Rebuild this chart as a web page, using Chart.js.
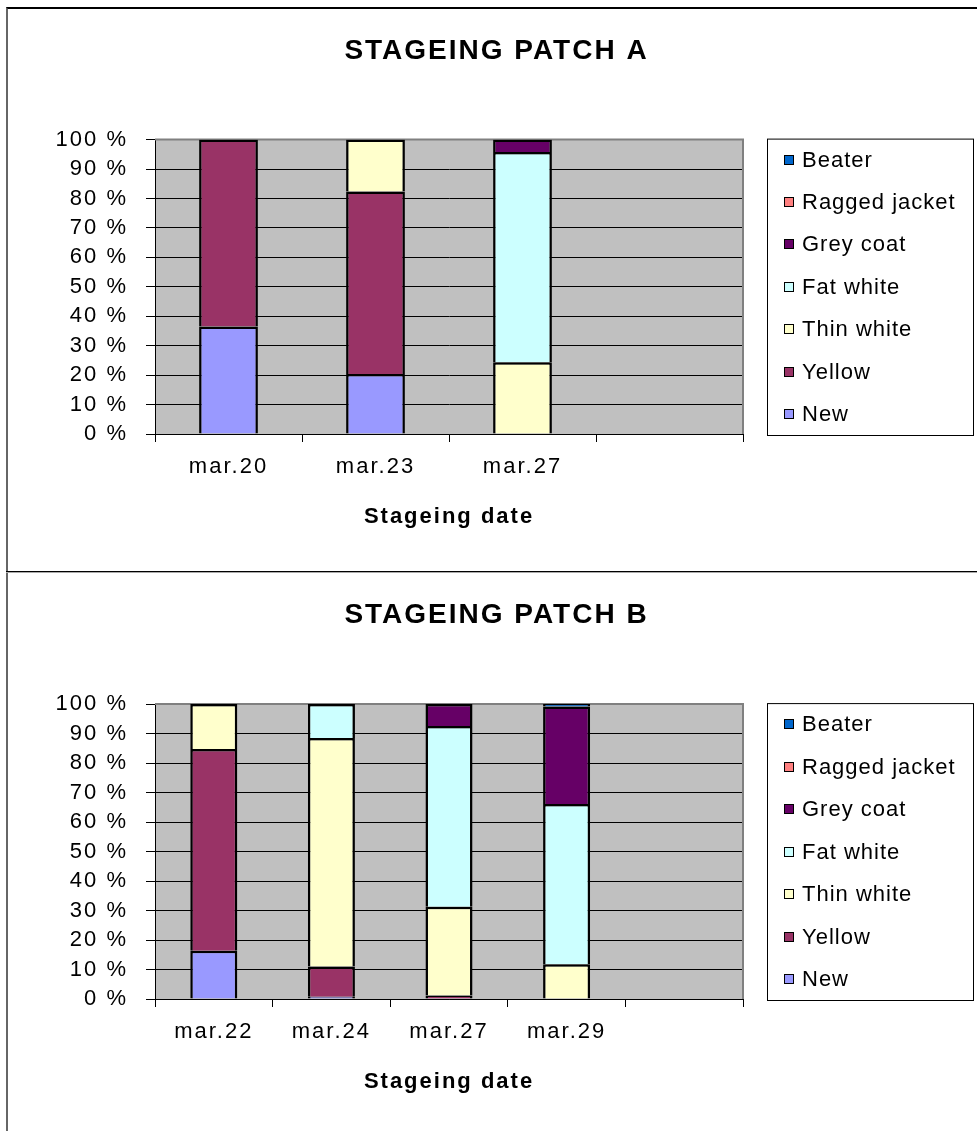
<!DOCTYPE html>
<html>
<head>
<meta charset="utf-8">
<script src="https://cdn.jsdelivr.net/npm/chart.js@4.4.1/dist/chart.umd.min.js"></script>
<style>
  html, body { margin: 0; padding: 0; background: #fff; }
  body { width: 977px; height: 1131px; position: relative; overflow: hidden; }
  #frame { position: absolute; left: 6px; top: 7px; width: 1000px; height: 1130px;
           border-top: 2px solid #000; border-left: 2px solid #666; box-sizing: border-box; }
  #sep { position: absolute; left: 6px; top: 571px; width: 1000px; height: 2px;
         border-top: 1px solid #000; border-bottom: 1px solid #aaa; box-sizing: border-box; }
  canvas { position: absolute; left: 0; }
  #cA { top: 0; }
  #cB { top: 572px; }
</style>
</head>
<body>
<div id="frame"></div>
<div id="sep"></div>
<canvas id="cA" width="977" height="572"></canvas>
<canvas id="cB" width="977" height="559"></canvas>
<script>
// ---- data ----
const seriesNames  = ['New', 'Yellow', 'Thin white', 'Fat white', 'Grey coat', 'Ragged jacket', 'Beater'];
const seriesColors = ['#9999FF', '#993366', '#FFFFCC', '#CCFFFF', '#660066', '#FF8080', '#0066CC'];
const yTickValues  = [0, 10, 20, 30, 40, 50, 60, 70, 80, 90, 100];

const titleA = 'STAGEING PATCH A';
const categoriesA = ['mar.20', 'mar.23', 'mar.27', ''];
const newA     = [36.5, 20.4, null, null];
const yellowA  = [63.5, 62.0, null, null];
const thinA    = [null, 17.6, 24.4, null];
const fatA     = [null, null, 71.4, null];
const greyA    = [null, null, 4.2, null];
const raggedA  = [null, null, null, null];
const beaterA  = [null, null, null, null];

const titleB = 'STAGEING PATCH B';
const categoriesB = ['mar.22', 'mar.24', 'mar.27', 'mar.29', ''];
const newB     = [16.4, 0.8, null, null, null];
const yellowB  = [68.4, 10.2, 1.2, null, null];
const thinB    = [15.2, 77.5, 30.1, 11.8, null];
const fatB     = [null, 11.5, 61.3, 54.3, null];
const greyB    = [null, null, 7.4, 33.1, null];
const raggedB  = [null, null, null, null, null];
const beaterB  = [null, null, null, 0.8, null];

const xAxisTitle = 'Stageing date';

const FONT = "'Liberation Sans', Arial, sans-serif";

function makeDatasets(cols) {
  return cols.map((d, i) => ({
    label: seriesNames[i],
    data: d,
    backgroundColor: seriesColors[i],
    borderColor: '#000',
    borderWidth: 2.5,
    borderSkipped: 'start',
    barPercentage: 0.4,
    categoryPercentage: 1.0
  }));
}

const spacingPlugin = {
  id: 'spacing',
  beforeUpdate(chart) { chart.ctx.letterSpacing = '2px'; },
  beforeDraw(chart) {
    const ctx = chart.ctx;
    ctx.letterSpacing = '2px';
    const a = chart.chartArea;
    ctx.save();
    ctx.fillStyle = '#C0C0C0';
    ctx.fillRect(a.left, a.top, a.right - a.left, a.bottom - a.top);
    ctx.restore();
  },
  beforeDatasetsDraw(chart) {
    const ctx = chart.ctx, a = chart.chartArea;
    ctx.save();
    ctx.strokeStyle = '#808080';
    ctx.lineWidth = 2;
    ctx.beginPath();
    ctx.moveTo(a.left, a.top);
    ctx.lineTo(a.right, a.top);
    ctx.lineTo(a.right, a.bottom);
    ctx.stroke();
    ctx.restore();
  },
  afterDraw(chart) {
    // legend frame and entries (top series first)
    const ctx = chart.ctx, a = chart.chartArea;
    const fx = 767, fw = 206;
    const fy = a.top - 1, fh = a.bottom - a.top + 2;
    ctx.save();
    ctx.strokeStyle = '#000';
    ctx.lineWidth = 1;
    ctx.strokeRect(fx + 0.5, fy + 0.5, fw, fh);
    const items = chart.data.datasets.slice().reverse();
    const step = (fh - 42) / (items.length - 1);
    ctx.font = '22px ' + FONT;
    ctx.letterSpacing = '1px';
    ctx.textBaseline = 'middle';
    ctx.textAlign = 'left';
    items.forEach((ds, i) => {
      const cy = fy + 21 + i * step;
      ctx.fillStyle = ds.backgroundColor;
      ctx.fillRect(784, Math.round(cy) - 5, 10, 10);
      ctx.strokeStyle = '#000';
      ctx.strokeRect(784.5, Math.round(cy) - 4.5, 9, 9);
      ctx.fillStyle = '#000';
      ctx.fillText(ds.label, 802, cy + 1);
    });
    ctx.restore();
    ctx.letterSpacing = '2px';
  }
};

function makeChart(id, title, cats, cols, cfg) {
  return new Chart(document.getElementById(id), {
    type: 'bar',
    data: { labels: cats, datasets: makeDatasets(cols) },
    options: {
      responsive: false,
      animation: false,
      devicePixelRatio: 1,
      layout: { padding: { left: 16, right: 0, top: 0, bottom: 0 } },
      plugins: {
        legend: { display: false },
        tooltip: { enabled: false },
        title: {
          display: true, text: title, color: '#000',
          font: { family: FONT, size: 28, weight: 'bold', lineHeight: 1.2 },
          padding: { top: cfg.titleTop, bottom: cfg.titleBottom }
        }
      },
      scales: {
        x: {
          stacked: true,
          grid: { display: true, drawOnChartArea: false, drawTicks: true, tickLength: 8, color: '#000', lineWidth: 1, offset: true },
          border: { display: true, color: '#000', width: 1 },
          ticks: { color: '#000', font: { family: FONT, size: 22 }, padding: cfg.xPad, maxRotation: 0, autoSkip: false },
          title: { display: true, text: xAxisTitle, color: '#000',
                   font: { family: FONT, size: 22, weight: 'bold', lineHeight: 1.2 },
                   padding: { top: 0, bottom: cfg.xTitleBottom } },
          afterFit(s) { s.height = cfg.xHeight; }
        },
        y: {
          stacked: true,
          min: 0, max: 100,
          afterBuildTicks(s) { s.ticks = yTickValues.map(v => ({ value: v })); },
          grid: { color: '#000', lineWidth: 1, drawTicks: true, tickLength: 9 },
          border: { display: true, color: '#000', width: 1 },
          ticks: { color: '#000', font: { family: FONT, size: 22 }, padding: 18,
                   callback: v => v + ' %' },
          afterFit(s) { s.width = 139; }
        },
        yR: {
          position: 'right', type: 'linear', display: true,
          grid: { display: false, drawTicks: false, color: 'rgba(0,0,0,0)' },
          border: { display: false, color: 'rgba(0,0,0,0)', width: 0 },
          ticks: { display: false },
          afterFit(s) { s.width = 234; }
        }
      }
    },
    plugins: [spacingPlugin]
  });
}

makeChart('cA', titleA, categoriesA,
  [newA, yellowA, thinA, fatA, greyA, raggedA, beaterA],
  { titleTop: 34, titleBottom: 72, xPad: 12, xHeight: 138, xTitleBottom: 42 });

makeChart('cB', titleB, categoriesB,
  [newB, yellowB, thinB, fatB, greyB, raggedB, beaterB],
  { titleTop: 26, titleBottom: 72.5, xPad: 12, xHeight: 132, xTitleBottom: 36 });
</script>
</body>
</html>
